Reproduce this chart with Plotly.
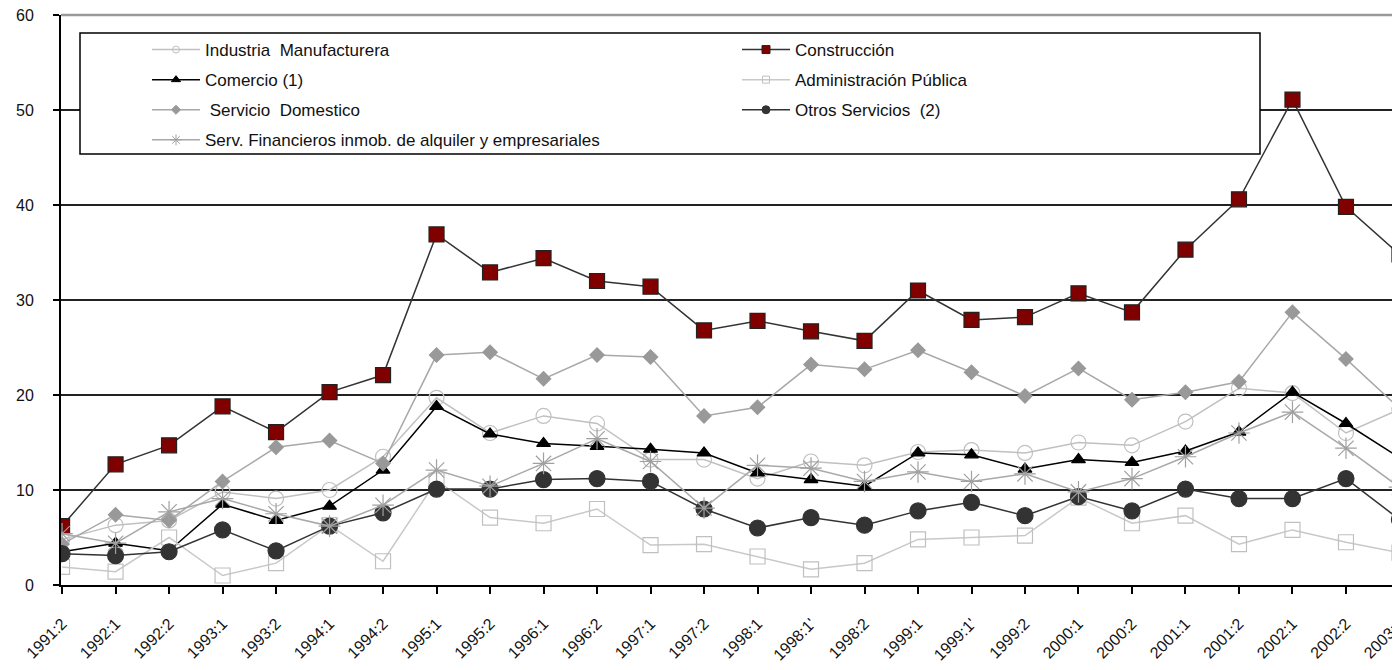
import plotly.graph_objects as go

categories = ["1991:2", "1992:1", "1992:2", "1993:1", "1993:2", "1994:1", "1994:2",
              "1995:1", "1995:2", "1996:1", "1996:2", "1997:1", "1997:2", "1998:1",
              "1998:1'", "1998:2", "1999:1", "1999:1'", "1999:2", "2000:1", "2000:2",
              "2001:1", "2001:2", "2002:1", "2002:2", "2003:1"]

industria = [4.8, 6.3, 6.8, 9.8, 9.1, 10.0, 13.5, 19.7, 16.0, 17.8, 17.0, 13.2, 13.2, 11.2,
             13.0, 12.6, 14.0, 14.2, 13.9, 15.0, 14.7, 17.2, 20.7, 20.2, 16.0, 18.5]
construccion = [6.2, 12.7, 14.7, 18.8, 16.1, 20.3, 22.1, 36.9, 32.9, 34.4, 32.0, 31.4, 26.8, 27.8,
                26.7, 25.7, 31.0, 27.9, 28.2, 30.7, 28.7, 35.3, 40.6, 51.1, 39.8, 34.8]
comercio = [3.5, 4.4, 3.6, 8.5, 6.8, 8.3, 12.1, 18.8, 15.9, 14.9, 14.6, 14.3, 13.9, 11.8,
            11.1, 10.4, 13.9, 13.7, 12.2, 13.2, 12.9, 14.1, 16.1, 20.3, 17.0, 13.4]
administracion = [1.9, 1.4, 5.0, 1.0, 2.3, 6.3, 2.5, 11.0, 7.1, 6.5, 8.0, 4.2, 4.3, 3.0,
                  1.65, 2.3, 4.8, 5.0, 5.2, 9.2, 6.5, 7.3, 4.3, 5.8, 4.5, 3.4]
domestico = [4.3, 7.4, 6.8, 10.9, 14.5, 15.2, 12.8, 24.2, 24.5, 21.7, 24.2, 24.0, 17.8, 18.7,
             23.2, 22.7, 24.7, 22.4, 19.9, 22.8, 19.5, 20.3, 21.4, 28.7, 23.8, 18.6]
otros = [3.3, 3.1, 3.5, 5.8, 3.6, 6.2, 7.6, 10.1, 10.1, 11.1, 11.2, 10.9, 8.0, 6.0,
         7.1, 6.3, 7.8, 8.7, 7.3, 9.3, 7.8, 10.1, 9.1, 9.1, 11.2, 6.9]
financieros = [5.4, 4.4, 7.7, 9.1, 7.5, 6.2, 8.4, 12.1, 10.4, 12.8, 15.4, 13.0, 8.1, 12.6,
               12.3, 10.9, 11.9, 10.9, 11.7, 9.8, 11.2, 13.5, 16.0, 18.2, 14.4, 10.3]

names = ["Industria  Manufacturera", "Construcción", "Comercio (1)", "Administración Pública",
         " Servicio  Domestico", "Otros Servicios  (2)",
         "Serv. Financieros inmob. de alquiler y empresariales"]
series = [industria, construccion, comercio, administracion, domestico, otros, financieros]

styles = [
    dict(line="#c0c0c0", symbol="circle-open", size=15, mcolor="#c0c0c0", mline="#c0c0c0", lsize=7),
    dict(line="#333333", symbol="square", size=15, mcolor="#800000", mline="#222222", lsize=8),
    dict(line="#000000", symbol="triangle-up", size=12, mcolor="#000000", mline="#000000", lsize=8),
    dict(line="#c8c8c8", symbol="square-open", size=15, mcolor="#c0c0c0", mline="#c0c0c0", lsize=7),
    dict(line="#a8a8a8", symbol="diamond", size=11, mcolor="#999999", mline="#999999", lsize=7),
    dict(line="#333333", symbol="circle", size=16, mcolor="#333333", mline="#333333", lsize=8),
    dict(line="#a8a8a8", symbol="asterisk-open", size=18, mcolor="#a0a0a0", mline="#a0a0a0", lsize=9),
]
legend_of = ["legend", "legend2", "legend", "legend2", "legend", "legend2", "legend"]

fig = go.Figure()
for name, vals, st in zip(names, series, styles):
    fig.add_trace(go.Scatter(
        x=categories, y=vals, mode="lines+markers", name=name, showlegend=False,
        line=dict(color=st["line"], width=1.5),
        marker=dict(symbol=st["symbol"], size=st["size"], color=st["mcolor"],
                    line=dict(color=st["mline"], width=1.2)),
    ))

# legend entries (small markers as in the original legend)
for i, (name, st, lg) in enumerate(zip(names, styles, legend_of)):
    fig.add_trace(go.Scatter(
        x=[None], y=[None], mode="lines+markers", name=name, legend=lg,
        legendgroup="g%d" % i,
        line=dict(color=st["line"], width=1.5),
        marker=dict(symbol=st["symbol"], size=st["lsize"], color=st["mcolor"],
                    line=dict(color=st["mline"], width=1)),
    ))

# page body adds an 8px offset; the figure is sized so the screenshot frame matches
OFF = 8
W, H = 1400 - OFF, 670 - OFF
PL, PT, PB = 61, 15, 585          # plot area edges in screenshot pixels
L, T, B, R = PL - OFF, PT - OFF, 670 - PB, 0
pw, ph = 1400 - PL, PB - PT


def px(x):
    return (x - PL) / pw


def py(y):
    return (PB - y) / ph


legend_common = dict(
    bgcolor="rgba(0,0,0,0)", borderwidth=0, itemwidth=48, tracegroupgap=5,
    font=dict(family="Liberation Sans, Arial, sans-serif", size=17, color="#111111"),
    xanchor="left", yanchor="top", orientation="v", itemclick=False,
)

fig.update_layout(
    width=W, height=H,
    margin=dict(l=L, r=R, t=T, b=B, autoexpand=False),
    paper_bgcolor="white", plot_bgcolor="white",
    font=dict(family="Liberation Sans, Arial, sans-serif", size=16, color="#111111"),
    legend=dict(x=px(147), y=py(32), **legend_common),
    legend2=dict(x=px(737), y=py(32), **legend_common),
    xaxis=dict(
        type="category", range=[-0.02, 25.01], showgrid=False, automargin=False,
        showline=True, linecolor="#000000", linewidth=2,
        ticks="outside", ticklen=7, tickwidth=1.5, tickcolor="#000000",
        tickangle=-45, tickfont=dict(size=16), ticklabelstandoff=14,
        ticklabeloverflow="allow", zeroline=False,
    ),
    yaxis=dict(
        range=[0, 60], tickvals=[0, 10, 20, 30, 40, 50, 60], automargin=False,
        showgrid=True, gridcolor="#222222", gridwidth=1.5,
        showline=True, linecolor="#000000", linewidth=2,
        ticks="outside", ticklen=6, tickwidth=1.5, tickcolor="#000000",
        tickfont=dict(size=16), ticklabelstandoff=16, ticklabeloverflow="allow",
        zeroline=False,
    ),
    shapes=[
        dict(type="line", xref="paper", yref="paper", x0=0, x1=1, y0=1, y1=1,
             line=dict(color="#9a9a9a", width=2.5), layer="above"),
        dict(type="rect", xref="paper", yref="paper",
             x0=px(80), x1=px(1260), y0=py(154), y1=py(33),
             fillcolor="white", line=dict(color="#000000", width=1.5), layer="above"),
    ],
)

fig.write_html("out.html")
